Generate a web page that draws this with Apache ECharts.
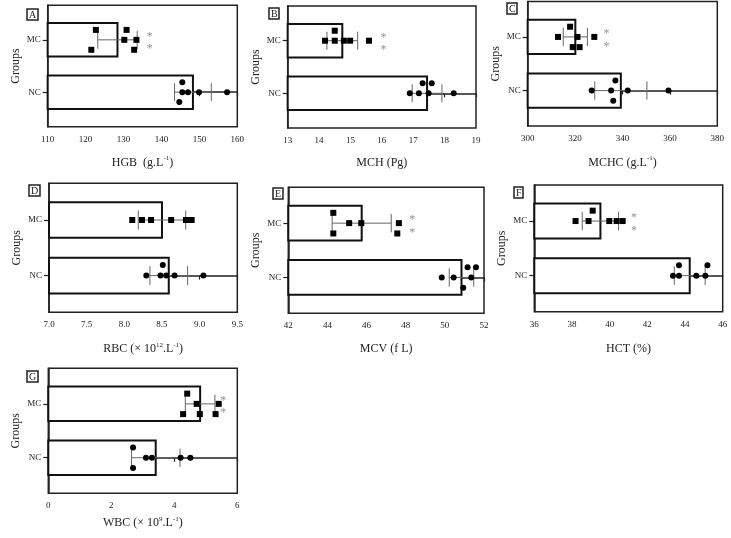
<!DOCTYPE html>
<html><head><meta charset="utf-8">
<script src="https://cdn.jsdelivr.net/npm/echarts@6/dist/echarts.min.js"></script>
<style>html,body{margin:0;padding:0;background:#fff}#c{width:731px;height:538px}</style>
</head><body><div id="c"></div>
<script>
// ---------------- DATA ----------------
const groups = ['NC', 'MC'];

// A: HGB
const hgbTicks = [110, 120, 130, 140, 150, 160];
const hgbNC = [145.5, 145.5, 147.0, 149.9, 157.3, 144.7];
const hgbNCRows = [1, 0, 0, 0, 0, -1];
const hgbMC = [122.7, 130.8, 130.2, 133.4, 121.5, 132.8];
const hgbMCRows = [1, 1, 0, 0, -1, -1];
const hgbMean = [148.3, 128.4];
const hgbSD = [4.85, 5.2];
const hgbStar = 136.9;

// B: MCH
const mchTicks = [13, 14, 15, 16, 17, 18, 19];
const mchNC = [17.30, 17.59, 16.89, 17.18, 17.49, 18.29];
const mchNCRows = [1, 1, 0, 0, 0, 0];
const mchMC = [14.19, 14.50, 14.50, 14.79, 14.99, 15.59];
const mchMCRows = [0, 1, 0, 0, 0, 0];
const mchMean = [17.44, 14.74];
const mchSD = [0.475, 0.49];
const mchStar = 16.05;

// C: MCHC
const mchcTicks = [300, 320, 340, 360, 380];
const mchcNC = [337.0, 327.0, 335.2, 342.2, 359.4, 336.1];
const mchcNCRows = [1, 0, 0, 0, 0, -1];
const mchcMC = [317.9, 312.8, 321.0, 328.1, 319.0, 321.9];
const mchcMCRows = [1, 0, 0, 0, -1, -1];
const mchcMean = [339.3, 320.1];
const mchcSD = [11.0, 5.1];
const mchcStar = 333.2;

// D: RBC
const rbcTicks = [7.0, 7.5, 8.0, 8.5, 9.0, 9.5];
const rbcNC = [8.292, 8.480, 8.511, 8.556, 8.667, 9.050];
const rbcNCRows = [0, 0, 1, 0, 0, 0];
const rbcMC = [8.105, 8.234, 8.355, 8.622, 8.818, 8.894];
const rbcMCRows = [0, 0, 0, 0, 0, 0];
const rbcMean = [8.59, 8.50];
const rbcSD = [0.25, 0.315];
const rbcStar = null;

// E: MCV
const mcvTicks = [42, 44, 46, 48, 50, 52];
const mcvNC = [49.84, 50.45, 51.16, 51.59, 51.35, 50.94];
const mcvNCRows = [0, 0, 1, 1, 0, -1];
const mcvMC = [44.30, 44.30, 45.11, 45.73, 47.65, 47.57];
const mcvMCRows = [1, -1, 0, 0, 0, -1];
const mcvMean = [50.85, 45.75];
const mcvSD = [0.625, 1.51];
const mcvStar = 48.34;

// F: HCT
const hctTicks = [36, 38, 40, 42, 44, 46];
const hctNC = [43.36, 43.68, 43.68, 44.60, 45.08, 45.19];
const hctNCRows = [0, 1, 0, 0, 0, 1];
const hctMC = [38.19, 38.88, 39.10, 39.98, 40.37, 40.69];
const hctMCRows = [0, 0, 1, 0, 0, 0];
const hctMean = [44.25, 39.51];
const hctSD = [0.82, 0.965];
const hctStar = 41.29;

// G: WBC
const wbcTicks = [0, 2, 4, 6];
const wbcNC = [2.69, 2.69, 3.10, 3.29, 4.20, 4.51];
const wbcNCRows = [1, -1, 0, 0, 0, 0];
const wbcMC = [4.41, 4.28, 4.71, 4.81, 5.41, 5.31];
const wbcMCRows = [1, -1, 0, -1, 0, -1];
const wbcMean = [3.41, 4.82];
const wbcSD = [0.77, 0.47];
const wbcStar = 5.55;

// ---------------- LAYOUT / STYLE ----------------
const FONT = 'Liberation Serif';
const TXT = '#222';
const ROW = 0.19, BAR_H = 0.32, CAP_H = 0.17, STAR_D = 0.12;

const panels = [
  {letter:'A', name:'HGB  (g.L{s|-1})', ticks:hgbTicks, nc:hgbNC, ncRows:hgbNCRows, mc:hgbMC, mcRows:hgbMCRows, mean:hgbMean, sd:hgbSD, star:hgbStar, dec:0,
   grid:{left:47.7, top:5.3, width:189.6, height:121.4}, nameGap:28, letterPos:[27, 9]},
  {letter:'B', name:'MCH (Pg)', ticks:mchTicks, nc:mchNC, ncRows:mchNCRows, mc:mchMC, mcRows:mchMCRows, mean:mchMean, sd:mchSD, star:mchStar, dec:0,
   grid:{left:287.7, top:6, width:188.3, height:122}, nameGap:27, letterPos:[269, 8]},
  {letter:'C', name:'MCHC (g.L{s|-1})', ticks:mchcTicks, nc:mchcNC, ncRows:mchcNCRows, mc:mchcMC, mcRows:mchcMCRows, mean:mchcMean, sd:mchcSD, star:mchcStar, dec:0,
   grid:{left:527.7, top:1.5, width:189.6, height:124.5}, nameGap:29, letterPos:[507, 3]},
  {letter:'D', name:'RBC (\u00d7 10{s|12}.L{s|-1})', ticks:rbcTicks, nc:rbcNC, ncRows:rbcNCRows, mc:rbcMC, mcRows:rbcMCRows, mean:rbcMean, sd:rbcSD, star:rbcStar, dec:1,
   grid:{left:49, top:183.3, width:188.3, height:129}, nameGap:29, letterPos:[29, 185]},
  {letter:'E', name:'MCV (f L)', ticks:mcvTicks, nc:mcvNC, ncRows:mcvNCRows, mc:mcvMC, mcRows:mcvMCRows, mean:mcvMean, sd:mcvSD, star:mcvStar, dec:0,
   grid:{left:288.3, top:187.3, width:195.7, height:126}, nameGap:28, letterPos:[273, 188]},
  {letter:'F', name:'HCT (%)', ticks:hctTicks, nc:hctNC, ncRows:hctNCRows, mc:hctMC, mcRows:hctMCRows, mean:hctMean, sd:hctSD, star:hctStar, dec:0,
   grid:{left:534.3, top:185, width:188.4, height:126.7}, nameGap:29, letterPos:[514, 187]},
  {letter:'G', name:'WBC (\u00d7 10{s|9}.L{s|-1})', ticks:wbcTicks, nc:wbcNC, ncRows:wbcNCRows, mc:wbcMC, mcRows:wbcMCRows, mean:wbcMean, sd:wbcSD, star:wbcStar, dec:0,
   grid:{left:48.3, top:368.3, width:189, height:125}, nameGap:22, letterPos:[27, 371]}
];

const grid = [], xAxis = [], yAxis = [], series = [], title = [];

panels.forEach((p, i) => {
  grid.push(Object.assign({show:true, borderColor:'#222', borderWidth:1.5, backgroundColor:'transparent', containLabel:false, outerBoundsMode:'none'}, p.grid));
  const xmin = p.ticks[0], xmax = p.ticks[p.ticks.length - 1];
  xAxis.push({
    type:'value', gridIndex:i, min:xmin, max:xmax, interval:p.ticks[1] - p.ticks[0],
    splitLine:{show:false},
    axisLine:{show:true, lineStyle:{color:'#222', width:1.5}},
    axisTick:{show:true, length:4, lineStyle:{color:'#222', width:1.2}},
    axisLabel:{show:true, margin:8, fontFamily:FONT, fontSize:9, color:TXT, showMinLabel:true, showMaxLabel:true, hideOverlap:false,
      formatter: v => p.dec ? v.toFixed(p.dec) : String(Math.round(v))},
    name:p.name, nameLocation:'middle', nameGap:p.nameGap, nameMoveOverlap:false,
    nameTextStyle:{fontFamily:FONT, fontSize:12, color:TXT, lineHeight:16,
      rich:{s:{fontFamily:FONT, fontSize:7, lineHeight:8, verticalAlign:'top', color:TXT}}}
  });
  yAxis.push({
    type:'value', gridIndex:i, min:-0.66, max:1.66,
    splitLine:{show:false},
    axisLine:{show:true, lineStyle:{color:'#222', width:1.5}},
    axisTick:{show:true, length:5, customValues:[0, 1], lineStyle:{color:'#222', width:1.2}},
    axisLabel:{show:true, margin:7, customValues:[0, 1], fontFamily:FONT, fontSize:9, color:TXT,
      formatter: v => groups[Math.round(v)]},
    name:'Groups', nameLocation:'middle', nameGap:26, nameMoveOverlap:false,
    nameTextStyle:{fontFamily:FONT, fontSize:12, color:TXT}
  });
  // bars + error bars
  series.push({
    type:'custom', xAxisIndex:i, yAxisIndex:i, silent:true, clip:false, z:1,
    data: groups.map((g, k) => [p.mean[k], k, p.sd[k]]),
    renderItem: (params, api) => {
      const m = api.value(0), y = api.value(1), s = api.value(2);
      const p0 = api.coord([xmin, y + BAR_H]);
      const p1 = api.coord([m, y - BAR_H]);
      const e0 = api.coord([m - s, y]);
      const e1 = api.coord([m + s, y]);
      const cT = api.coord([m, y + CAP_H])[1], cB = api.coord([m, y - CAP_H])[1];
      const es = {stroke:'#666', lineWidth:1};
      return {type:'group', children:[
        {type:'rect', shape:{x:p0[0], y:p0[1], width:p1[0] - p0[0], height:p1[1] - p0[1]}, style:{fill:'#fff', stroke:'#111', lineWidth:2}},
        {type:'line', shape:{x1:e0[0], y1:e0[1], x2:e1[0], y2:e1[1]}, style:es},
        {type:'line', shape:{x1:e0[0], y1:cT, x2:e0[0], y2:cB}, style:es},
        {type:'line', shape:{x1:e1[0], y1:cT, x2:e1[0], y2:cB}, style:es}
      ]};
    }
  });
  series.push({
    type:'scatter', xAxisIndex:i, yAxisIndex:i, silent:true, z:3,
    symbol:'circle', symbolSize:6, itemStyle:{color:'#000', opacity:1},
    data: p.nc.map((v, k) => [v, 0 + p.ncRows[k] * ROW])
  });
  series.push({
    type:'scatter', xAxisIndex:i, yAxisIndex:i, silent:true, z:3,
    symbol:'rect', symbolSize:6, itemStyle:{color:'#000', opacity:1},
    data: p.mc.map((v, k) => [v, 1 + p.mcRows[k] * ROW])
  });
  if (p.star !== null) {
    series.push({
      type:'scatter', xAxisIndex:i, yAxisIndex:i, silent:true, z:4,
      symbol:'circle', symbolSize:1, itemStyle:{color:'rgba(0,0,0,0)'},
      label:{show:true, position:'inside', formatter:'*', fontFamily:FONT, fontSize:12, color:'#777', offset:[0, 3]},
      data: [[p.star, 1 + STAR_D], [p.star, 1 - STAR_D]]
    });
  }
  title.push({
    text:p.letter, left:p.letterPos[0], top:p.letterPos[1],
    padding:[1, 2, 0, 2], borderColor:'#222', borderWidth:1.5,
    textStyle:{fontFamily:FONT, fontSize:10, fontWeight:'normal', color:TXT}
  });
});

const chart = echarts.init(document.getElementById('c'), null, {renderer:'canvas'});
chart.setOption({animation:false, backgroundColor:'#fff', title, grid, xAxis, yAxis, series});
</script>
</body></html>
